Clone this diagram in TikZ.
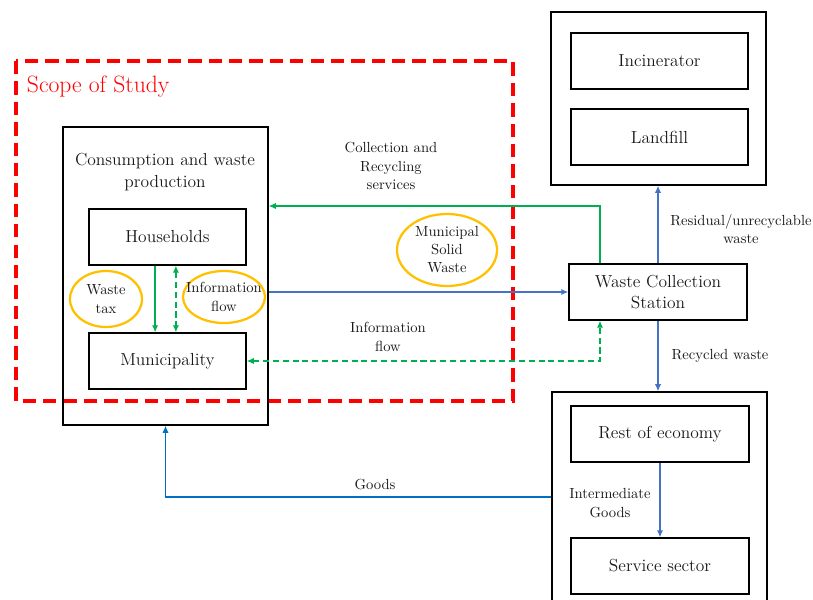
\documentclass[tikz,border=0pt]{standalone}
\usepackage{amsmath}
\usetikzlibrary{arrows.meta,shapes.geometric}

\definecolor{flowgreen}{RGB}{0,176,80}
\definecolor{flowblue}{RGB}{68,114,196}
\definecolor{goodsblue}{RGB}{0,112,192}
\definecolor{ovalorange}{RGB}{255,192,0}
\definecolor{scopered}{RGB}{255,0,0}

\tikzset{
  bigtext/.style={align=center,text=black!90,font=\fontsize{12.4}{15.5}\selectfont},
  box/.style={bigtext,draw=black,line width=1pt,inner sep=0pt,
    minimum width=4.45cm,minimum height=1.4cm},
  oval/.style={ellipse,draw=ovalorange,line width=1.6pt,inner sep=0pt},
  lbl/.style={align=center,text=black!90,font=\fontsize{10.4}{13}\selectfont},
  tip/.style={-{Latex[length=5pt,width=4.5pt]}},
  twotip/.style={{Latex[length=5pt,width=4.5pt]}-{Latex[length=5pt,width=4.5pt]}},
  greenflow/.style={tip,draw=flowgreen,line width=0.9pt},
  blueflow/.style={tip,draw=flowblue,line width=0.9pt},
  infodash/.style={dash pattern=on 4.3pt off 2.7pt},
}

\begin{document}
\begin{tikzpicture}[x=0.025cm,y=-0.025cm]
\useasboundingbox (0,0) rectangle (813,599);
% scope of study
\draw [scopered,line width=2.8pt,dash pattern=on 9.5pt off 5pt] (16,61) rectangle (513,401);
\node [anchor=west,text=scopered,font=\fontsize{16.8}{19}\selectfont] (scope) at (22,87) {Scope of Study};
% consumption side
\node [box,minimum width=5.125cm,minimum height=7.45cm] (cons) at (165.5,276) {};
\node [bigtext] (constitle) at (165,172) {Consumption and waste\\production};
\node [box,minimum width=3.925cm] (hh) at (167.5,237) {Households};
\node [box,minimum width=3.925cm] (mun) at (167.5,361) {Municipality};
\node [oval,minimum width=1.8cm,minimum height=1.4cm] (taxoval) at (106,299) {};
\node [lbl] (taxtext) at (taxoval) {Waste\\tax};
\node [oval,minimum width=2.05cm,minimum height=1.3cm] (infooval) at (224,297) {};
\node [lbl] (infotext) at (infooval) {Information\\flow};
\node [oval,minimum width=2.5cm,minimum height=1.8cm] (mswoval) at (447,250) {};
\node [lbl,font=\fontsize{10.4}{12.8}\selectfont] (mswtext) at (mswoval) {Municipal\\Solid\\Waste};
% treatment side
\node [box,minimum width=5.375cm,minimum height=4.325cm] (top) at (658.5,98.5) {};
\node [box,minimum width=4.425cm] (inc) at (659.5,61) {Incinerator};
\node [box,minimum width=4.425cm] (land) at (659.5,137) {Landfill};
\node [box] (wcs) at (658,292) {Waste Collection\\Station};
\node [box,minimum width=5.375cm,minimum height=5.7cm] (eco) at (659.5,506) {};
\node [box] (rest) at (660,434) {Rest of economy};
\node [box] (serv) at (660,566) {Service sector};
% helper points
\coordinate (collY) at (600,206);
\coordinate (goodsY) at (552,497);
% flows
\draw [greenflow] ([xshift=-0.31cm]hh.south) -- ([xshift=-0.31cm]mun.north);
\draw [greenflow,infodash,twotip] ([xshift=0.21cm]hh.south) -- ([xshift=0.21cm]mun.north);
\draw [greenflow] ([xshift=-1.45cm]wcs.north) |- (cons.east |- collY);
\draw [blueflow] (cons.east |- wcs.west) -- (wcs.west);
\draw [greenflow,infodash,twotip] (mun.east) -| ([xshift=-1.45cm]wcs.south);
\draw [blueflow] (wcs.north) -- (wcs.north |- top.south);
\draw [blueflow] (wcs.south) -- (wcs.south |- eco.north);
\draw [blueflow] (rest.south) -- (serv.north);
\draw [tip,draw=goodsblue,line width=0.9pt] (eco.west |- goodsY) -| (cons.south);
% labels
\node [lbl] (colllbl) at (391,166) {Collection and\\Recycling\\services};
\node [lbl] (infolbl) at (388,337) {Information\\flow};
\node [lbl] (reslbl) at (741,229) {Residual/unrecyclable\\waste};
\node [lbl] (reclbl) at (720,356) {Recycled waste};
\node [lbl] (intlbl) at (610,503) {Intermediate\\Goods};
\node [lbl] (goodslbl) at (375,484) {Goods};
\end{tikzpicture}
\end{document}
